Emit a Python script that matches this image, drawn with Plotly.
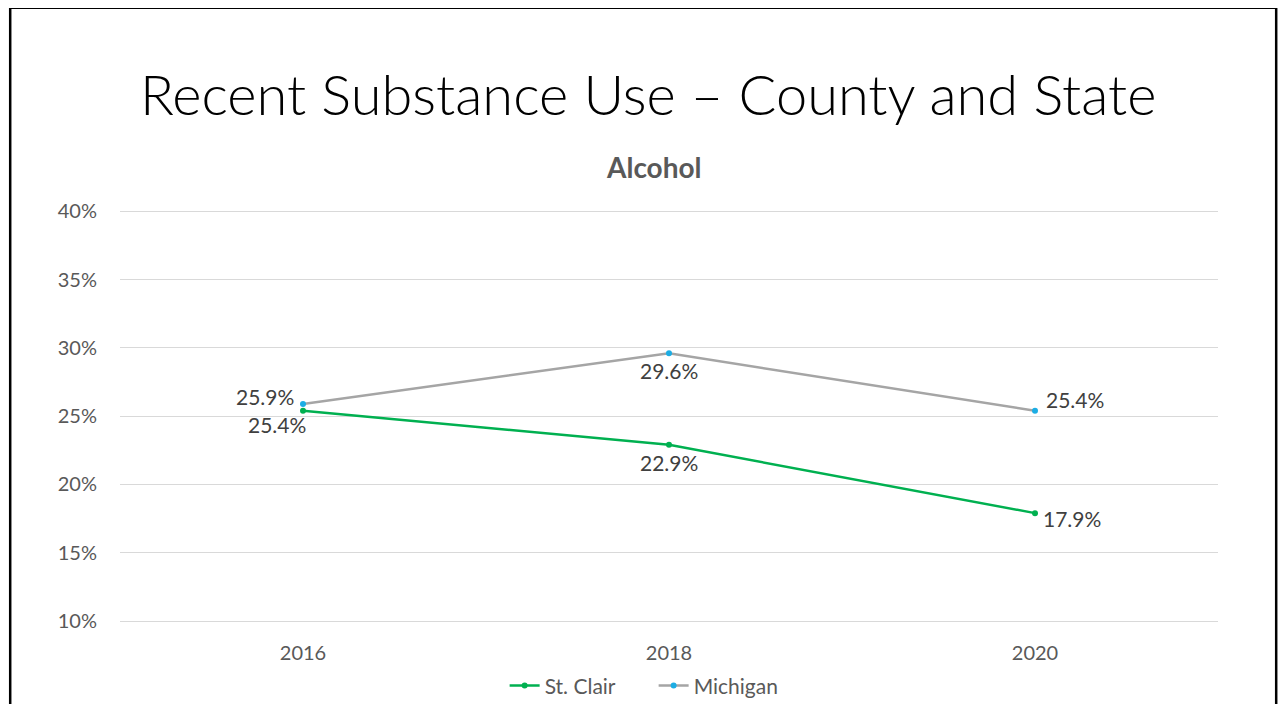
import plotly.graph_objects as go

years = ["2016", "2018", "2020"]
st_clair = [25.4, 22.9, 17.9]
michigan = [25.9, 29.6, 25.4]
y_ticks = [10, 15, 20, 25, 30, 35, 40]
y_tick_labels = ["10%", "15%", "20%", "25%", "30%", "35%", "40%"]

# label offsets (px) relative to each point: (xshift, yshift)
st_clair_offsets = [(-26, -14), (0, -18), (37, -5)]
michigan_offsets = [(-38, 7), (0, -17), (40, 11)]

font_family = "Lato, 'Open Sans', sans-serif"

fig = go.Figure()
fig.add_trace(go.Scatter(
    x=years, y=st_clair, name="St. Clair", mode="lines+markers",
    line=dict(color="#00B050", width=2.5),
    marker=dict(color="#00B050", size=6),
))
fig.add_trace(go.Scatter(
    x=years, y=michigan, name="Michigan", mode="lines+markers",
    line=dict(color="#A5A5A5", width=2.5),
    marker=dict(color="#1CADE4", size=6),
))

annotations = [
    dict(text="Recent Substance Use – County and State", x=0.481, y=1.283,
         xref="paper", yref="paper", showarrow=False, xanchor="center", yanchor="middle",
         font=dict(size=56, color="#000000", family=font_family, weight=300)),
    dict(text="<b>Alcohol</b>", x=0.486, y=1.105, xref="paper", yref="paper",
         showarrow=False, xanchor="center", yanchor="middle",
         font=dict(size=28, color="#595959", family=font_family)),
]
for values, offsets in ((st_clair, st_clair_offsets), (michigan, michigan_offsets)):
    for i, (v, (dx, dy)) in enumerate(zip(values, offsets)):
        annotations.append(dict(
            x=i, y=v, xref="x", yref="y", text=f"{v:.1f}%", showarrow=False,
            xanchor="center", yanchor="middle", xshift=dx, yshift=dy,
            font=dict(size=21, color="#404040", family=font_family)))

fig.update_layout(
    width=1280, height=696,
    margin=dict(l=112, r=70, t=202, b=83, autoexpand=False),
    paper_bgcolor="white", plot_bgcolor="white",
    font=dict(family=font_family, color="#595959", size=20),
    showlegend=True,
    legend=dict(orientation="h", x=0.486, xanchor="center", y=-0.158, yanchor="middle",
                font=dict(size=21, color="#595959"), entrywidth=104),
    annotations=annotations,
    shapes=[
        dict(type="rect", xref="paper", yref="paper", x0=-0.1, x1=1.053, y0=-0.4, y1=1.492,
             line=dict(color="black", width=2.5), fillcolor="rgba(0,0,0,0)", layer="below"),
    ],
)
fig.update_xaxes(type="category", range=[-0.5, 2.5], showgrid=False, showline=True,
                 linecolor="#D9D9D9", linewidth=1, ticks="", ticklabelstandoff=14,
                 tickfont=dict(size=20, color="#595959"))
fig.update_yaxes(range=[10, 40.1], tickvals=y_ticks, ticktext=y_tick_labels,
                 showgrid=True, gridcolor="#D9D9D9",
                 gridwidth=1, zeroline=False, showline=False, ticks="", ticklabelstandoff=22,
                 tickfont=dict(size=20, color="#595959"))

fig.write_html("out.html")
